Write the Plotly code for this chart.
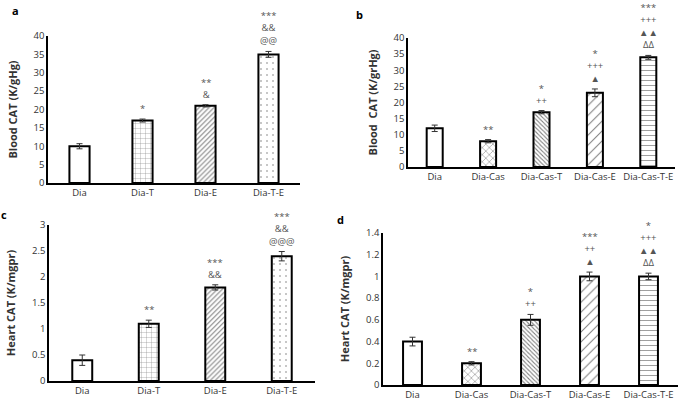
import plotly.graph_objects as go

# ---------------- data ----------------
cats_a = ["Dia", "Dia-T", "Dia-E", "Dia-T-E"]
vals_a = [10, 17, 21, 35]
err_a = [0.7, 0.4, 0.3, 0.8]
sig_a = ["", "*", "**<br>&", "***<br>&&<br>@@"]

cats_b = ["Dia", "Dia-Cas", "Dia-Cas-T", "Dia-Cas-E", "Dia-Cas-T-E"]
vals_b = [12, 8, 17, 23, 34]
err_b = [1.0, 0.5, 0.5, 1.2, 0.6]
sig_b = ["", "**", "*<br>++", "*<br>+++<br>▲", "***<br>+++<br>▲▲<br>ΔΔ"]

cats_c = ["Dia", "Dia-T", "Dia-E", "Dia-T-E"]
vals_c = [0.4, 1.1, 1.8, 2.4]
err_c = [0.1, 0.07, 0.05, 0.09]
sig_c = ["", "**", "***<br>&&", "***<br>&&<br>@@@"]

cats_d = ["Dia", "Dia-Cas", "Dia-Cas-T", "Dia-Cas-E", "Dia-Cas-T-E"]
vals_d = [0.4, 0.2, 0.6, 1.0, 1.0]
err_d = [0.04, 0.015, 0.05, 0.04, 0.03]
sig_d = ["", "**", "*<br>++", "***<br>++<br>▲", "*<br>+++<br>▲▲<br>ΔΔ"]

ytitles = ["Blood CAT (K/gHg)", "Blood  CAT (K/grHg)", "Heart CAT (K/mgpr)", "Heart CAT (K/mgpr)"]
panel_letters = ["a", "b", "c", "d"]

# ---------------- styles ----------------
pat4 = [dict(shape=""), dict(shape="+", size=5, solidity=0.12),
        dict(shape="/", size=3.5, solidity=0.3), dict(shape=".", size=6, solidity=0.06)]
pat5 = [dict(shape=""), dict(shape="x", size=5, solidity=0.2),
        dict(shape="\\", size=3, solidity=0.35), dict(shape="/", size=7, solidity=0.15),
        dict(shape="-", size=5, solidity=0.15)]

panels = [
    dict(cats=cats_a, vals=vals_a, err=err_a, sig=sig_a, pat=pat4,
         xd=[48/689, 300/689], yd=[1-183/402, 1-36/402], yr=[0, 40], dt=5, bw=0.32),
    dict(cats=cats_b, vals=vals_b, err=err_b, sig=sig_b, pat=pat5,
         xd=[408/689, 675/689], yd=[1-167/402, 1-38/402], yr=[0, 40], dt=5, bw=0.3),
    dict(cats=cats_c, vals=vals_c, err=err_c, sig=sig_c, pat=pat4,
         xd=[49/689, 315/689], yd=[1-381/402, 1-225/402], yr=[0, 3], dt=0.5, bw=0.3),
    dict(cats=cats_d, vals=vals_d, err=err_d, sig=sig_d, pat=pat5,
         xd=[383/689, 678/689], yd=[1-385/402, 1-233/402], yr=[0, 1.4], dt=0.2, bw=0.32),
]
letter_pos = [(15, 10), (359, 15), (4, 215), (340, 220)]

FONT = "Open Sans"
fig = go.Figure()
layout = {}
annotations = []
for i, p in enumerate(panels):
    k = "" if i == 0 else str(i + 1)
    xa, ya = "x" + k, "y" + k
    fig.add_trace(go.Bar(
        x=p["cats"], y=p["vals"], xaxis=xa, yaxis=ya, width=p["bw"],
        marker=dict(color="white", line=dict(color="black", width=2),
                    pattern=dict(fgcolor="black", bgcolor="white", fillmode="overlay")),
        error_y=dict(type="data", array=p["err"], color="#333333", thickness=1, width=3),
        showlegend=False, hoverinfo="skip"))
    fig.data[-1].marker.pattern.shape = [d.get("shape", "") for d in p["pat"]]
    fig.data[-1].marker.pattern.size = [d.get("size", 8) for d in p["pat"]]
    fig.data[-1].marker.pattern.solidity = [d.get("solidity", 0.3) for d in p["pat"]]

    layout["xaxis" + k] = dict(domain=p["xd"], anchor=ya, type="category",
                               range=[-0.5, len(p["cats"]) - 0.5],
                               showline=True, linecolor="black", linewidth=1.5,
                               ticks="", showgrid=False, automargin=False,
                               tickfont=dict(family=FONT, size=9.5, color="#333333"))
    layout["yaxis" + k] = dict(domain=p["yd"], anchor=xa, range=p["yr"], dtick=p["dt"],
                               showline=True, linecolor="black", linewidth=1.5,
                               ticks="", showgrid=False, zeroline=False, automargin=False,
                               tickfont=dict(family=FONT, size=9.5, color="#333333"),
                               title=dict(text="<b>" + ytitles[i] + "</b>", standoff=14,
                                          font=dict(family=FONT, size=11, color="#333333")))
    for c, v, e, s in zip(p["cats"], p["vals"], p["err"], p["sig"]):
        if s:
            annotations.append(dict(x=c, y=v + e, xref=xa, yref=ya, text=s, showarrow=False,
                                    yanchor="bottom", yshift=2,
                                    font=dict(family=FONT, size=9.5, color="#555555")))
    lx, ly = letter_pos[i]
    annotations.append(dict(x=lx/689, y=1-ly/402, xref="paper", yref="paper",
                            text="<b>" + panel_letters[i] + "</b>", showarrow=False,
                            xanchor="center", yanchor="middle",
                            font=dict(family=FONT, size=11, color="black")))

fig.update_layout(width=689, height=402, margin=dict(l=0, r=0, t=0, b=0),
                  paper_bgcolor="white", plot_bgcolor="white",
                  annotations=annotations, bargap=0.5, **layout)
fig.write_html("out.html", config={"displayModeBar": False},
               post_script="document.body.style.margin='0';")
